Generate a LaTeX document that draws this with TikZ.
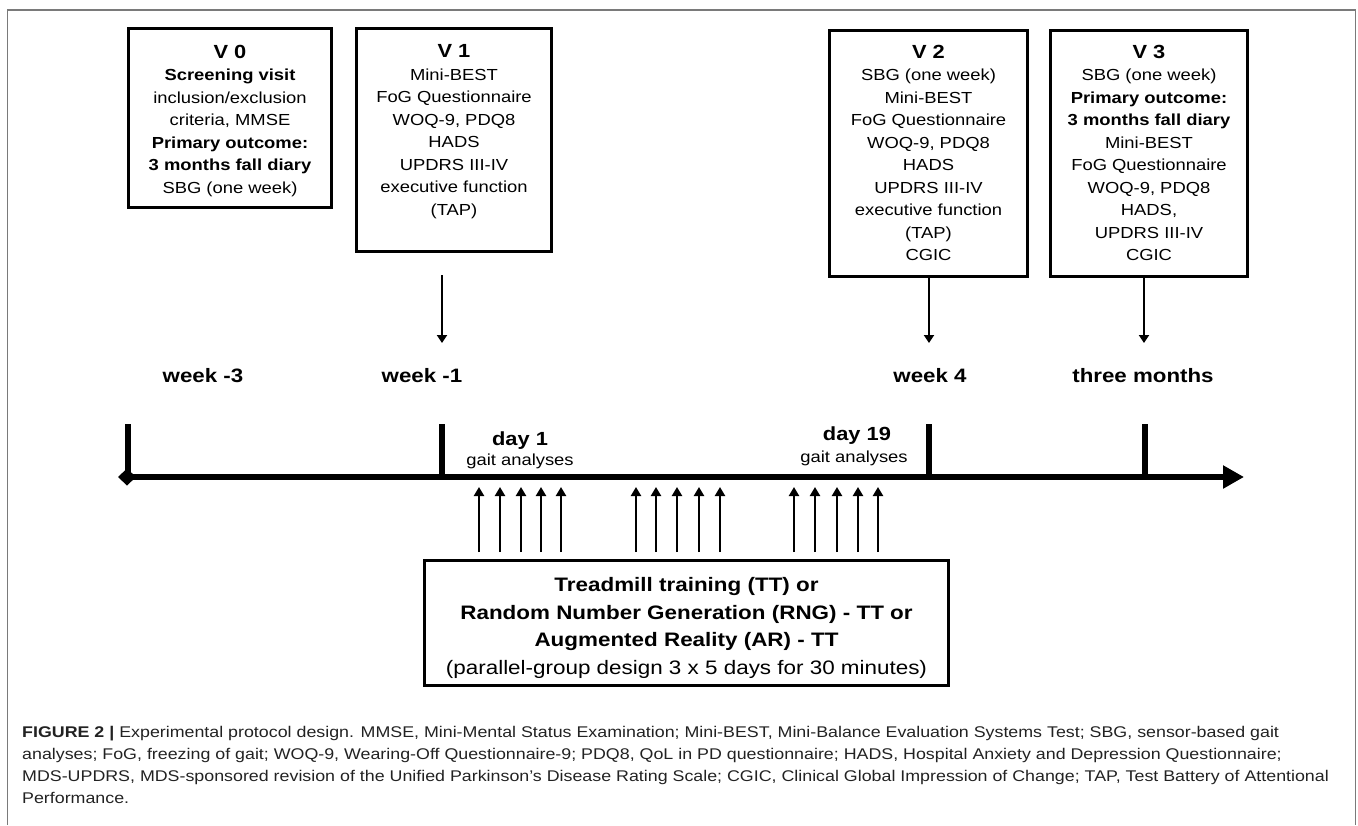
\documentclass[tikz,border=0pt]{standalone}
\usepackage{fontspec}
\setmainfont{Liberation Sans}[FakeStretch=1.15]
\usetikzlibrary{arrows.meta}
\definecolor{framegray}{HTML}{7A7A7A}
\definecolor{captxt}{HTML}{222222}
\begin{document}
\begin{tikzpicture}[x=1pt,y=-1pt,
  vbox/.style={draw, line width=3pt, inner sep=0pt, anchor=north west},
  downarr/.style={line width=2.2pt, -{Triangle[width=10pt,length=8pt]}},
  uparr/.style={line width=2.6pt, -{Triangle[width=10pt,length=9pt]}},
  tick/.style={line width=5.5pt},
  weeklbl/.style={anchor=base, inner sep=0pt, font=\fontsize{19.4}{22}\selectfont\bfseries},
  daylbl/.style={anchor=base, inner sep=0pt, font=\fontsize{19}{22}\selectfont\bfseries},
  gaitlbl/.style={anchor=base, inner sep=0pt, font=\fontsize{16}{20}\selectfont},
  caplbl/.style={anchor=base west, inner sep=0pt, text=captxt, font=\fontsize{15.5}{22}\selectfont}
]
\useasboundingbox (0,0) rectangle (1358,825);
% outer frame
\draw[line width=1.6pt, framegray] (7.5,825) -- (7.5,10) -- (1355.5,10) -- (1355.5,825);

% visit boxes
\node[vbox] (v0) at (127,27) {\parbox[c][179pt][t]{203pt}{\centering\fontsize{16}{22.5}\selectfont\vspace*{16.4pt}{\fontsize{19}{22.5}\selectfont\bfseries V 0}\\
\textbf{Screening visit}\\ inclusion/exclusion\\ criteria, MMSE\\ \textbf{Primary outcome:}\\ \textbf{3 months fall diary}\\ SBG (one week)}};

\node[vbox] (v1) at (355,27) {\parbox[c][223pt][t]{195pt}{\centering\fontsize{16}{22.5}\selectfont\vspace*{16.4pt}{\fontsize{19}{22.5}\selectfont\bfseries V 1}\\
Mini-BEST\\ FoG Questionnaire\\ WOQ-9, PDQ8\\ HADS\\ UPDRS III-IV\\ executive function\\ (TAP)}};

\node[vbox] (v2) at (828,29) {\parbox[c][246pt][t]{198pt}{\centering\fontsize{16}{22.5}\selectfont\vspace*{14.4pt}{\fontsize{19}{22.5}\selectfont\bfseries V 2}\\
SBG (one week)\\ Mini-BEST\\ FoG Questionnaire\\ WOQ-9, PDQ8\\ HADS\\ UPDRS III-IV\\ executive function\\ (TAP)\\ CGIC}};

\node[vbox] (v3) at (1049,29) {\parbox[c][246pt][t]{197pt}{\centering\fontsize{16}{22.5}\selectfont\vspace*{14.4pt}{\fontsize{19}{22.5}\selectfont\bfseries V 3}\\
SBG (one week)\\ \textbf{Primary outcome:}\\ \textbf{3 months fall diary}\\ Mini-BEST\\ FoG Questionnaire\\ WOQ-9, PDQ8\\ HADS,\\ UPDRS III-IV\\ CGIC}};

% down arrows
\coordinate (d1s) at (442,275);
\coordinate (d1e) at (442,343);
\coordinate (d2e) at (929,343);
\coordinate (d3e) at (1144,343);
\draw[downarr] (d1s) -- (d1e);
\draw[downarr] (v2.south -| d2e) -- (d2e);
\draw[downarr] (v3.south -| d3e) -- (d3e);

% week labels
\node[weeklbl] (w1) at (203,382) {week -3};
\node[weeklbl] (w2) at (422,382) {week -1};
\node[weeklbl] (w3) at (930,382) {week 4};
\node[weeklbl] (w4) at (1143,382) {three months};

% timeline
\coordinate (tl0) at (118,477);
\coordinate (tl1) at (1244,477);
\draw[line width=6.5pt, {Diamond[width=17pt,length=18pt]}-{Triangle[width=22pt,length=21pt]}] (tl0) -- (tl1);

% ticks
\foreach \x/\n in {128/a,442/b,929/c,1145/d}{
  \coordinate (tk\n) at (\x,424);
  \draw[tick] (tk\n) -- (\x,477);
}

% day labels
\node[daylbl] (day1) at (520,445) {day 1};
\node[gaitlbl] (g1) at (520,465) {gait analyses};
\node[daylbl] (day19) at (857,440) {day 19};
\node[gaitlbl] (g19) at (854,462) {gait analyses};

% training box
\node[vbox] (tt) at (423,559) {\parbox[c][125pt][t]{524pt}{\centering\fontsize{19.5}{27.7}\selectfont\vspace*{16.8pt}\textbf{Treadmill training (TT) or}\\
\textbf{Random Number Generation (RNG) - TT or}\\ \textbf{Augmented Reality (AR) - TT}\\ (parallel-group design 3 x 5 days for 30 minutes)}};

% up arrows
\foreach \x in {479,500,521,541,561,636,656,677,699,720,794,815,837,858,878}{
  \draw[uparr] (tt.north -| \x,0) ++(0,-7) -- (\x,487);
}

% caption
\node[caplbl] (cap1) at (22,737) {\textbf{FIGURE 2 |} Experimental protocol design. MMSE, Mini-Mental Status Examination; Mini-BEST, Mini-Balance Evaluation Systems Test; SBG, sensor-based gait};
\node[caplbl] (cap2) at (22,759) {analyses; FoG, freezing of gait; WOQ-9, Wearing-Off Questionnaire-9; PDQ8, QoL in PD questionnaire; HADS, Hospital Anxiety and Depression Questionnaire;};
\node[caplbl] (cap3) at (22,781) {MDS-UPDRS, MDS-sponsored revision of the Unified Parkinson’s Disease Rating Scale; CGIC, Clinical Global Impression of Change; TAP, Test Battery of Attentional};
\node[caplbl] (cap4) at (22,803) {Performance.};
\end{tikzpicture}
\end{document}
